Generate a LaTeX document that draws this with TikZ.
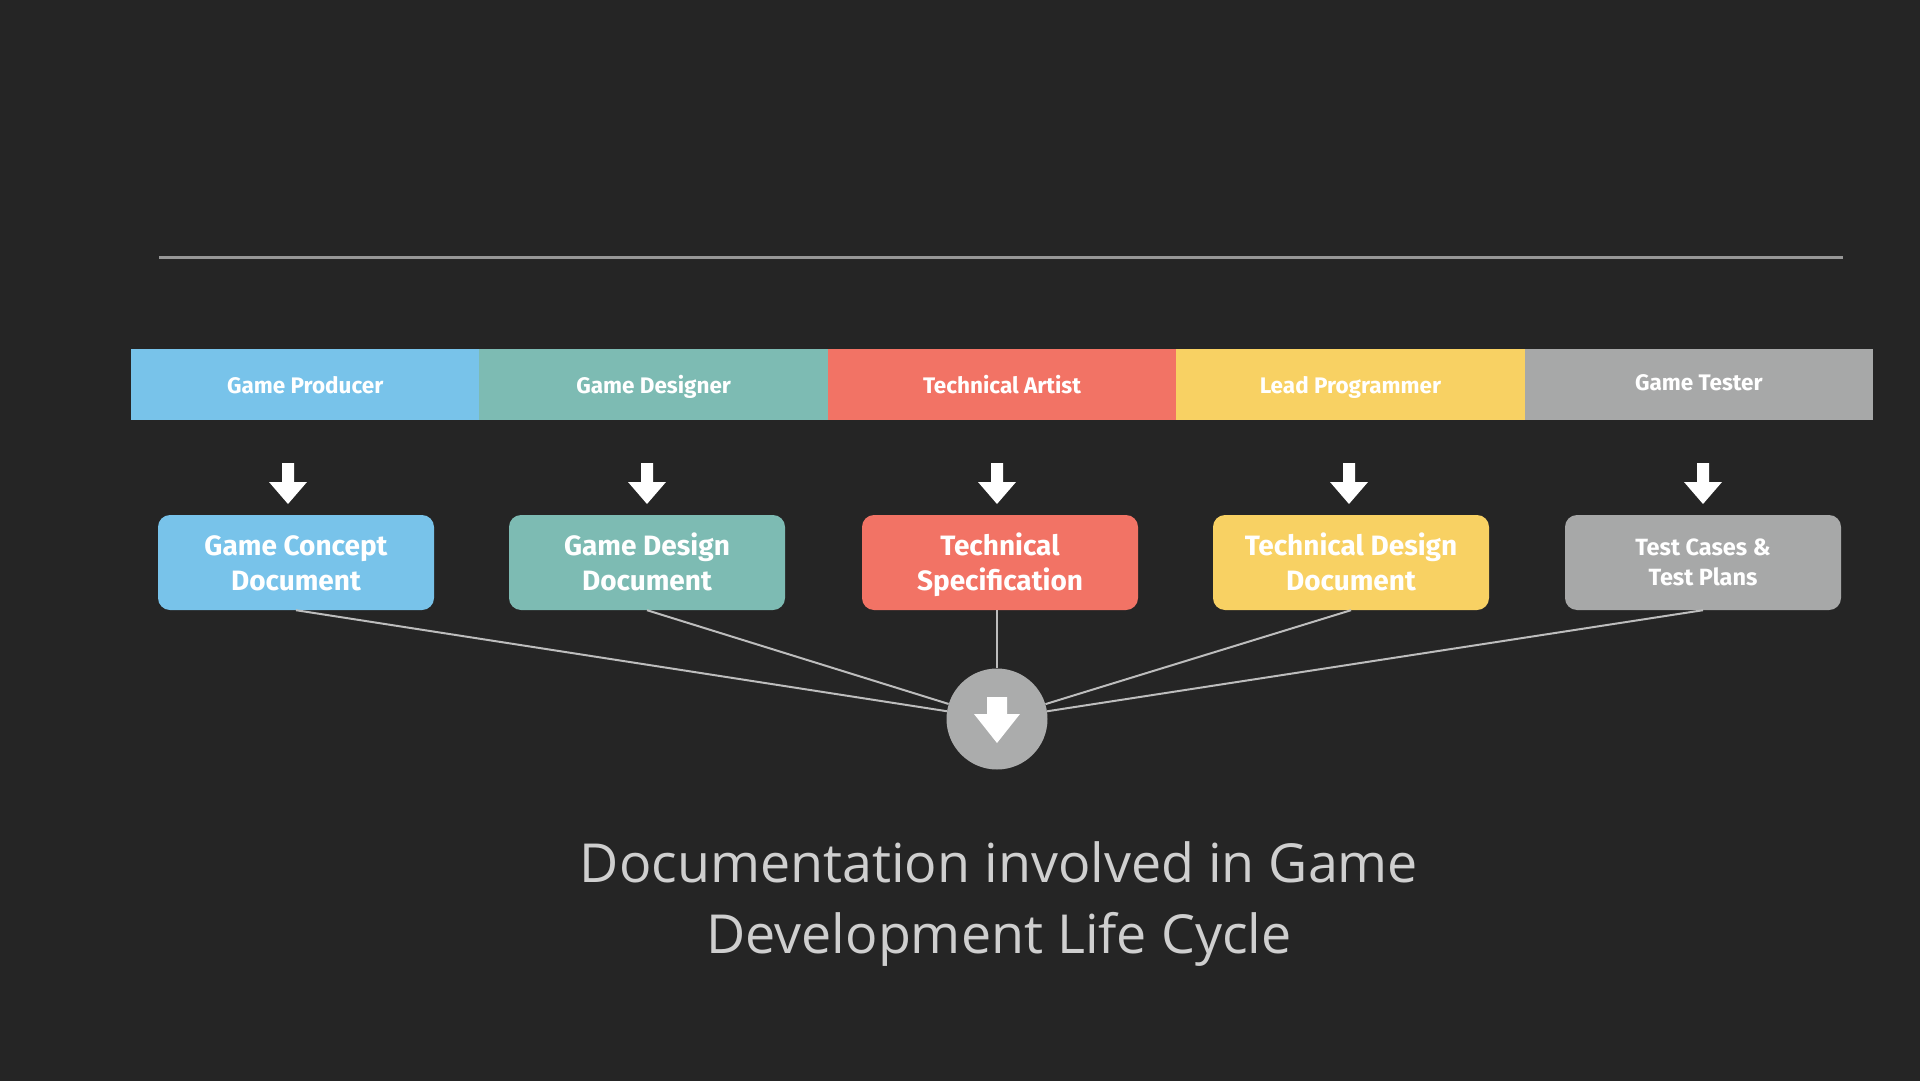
\documentclass[tikz,border=0pt]{standalone}
\usepackage{fontspec}
\setmainfont{Fira Sans}
\newfontfamily\titlefont{Open Sans}
\definecolor{bg}{HTML}{252525}
\definecolor{cblue}{HTML}{78C3EA}
\definecolor{cteal}{HTML}{7DBBB3}
\definecolor{cred}{HTML}{F27365}
\definecolor{cyellow}{HTML}{F8D163}
\definecolor{cgray}{HTML}{A7A8A8}
\definecolor{cline}{HTML}{BDBDBD}
\definecolor{ctitle}{HTML}{CFCFCF}
\tikzset{
  barseg/.style={fill=#1, draw=none, minimum width=348.4pt, minimum height=71pt, inner sep=0pt,
    text height=16pt, text depth=5pt,
    text=white, font=\fontsize{22.5}{26}\selectfont\bfseries},
  docbox/.style={fill=#1, draw=none, rounded corners=12pt, minimum width=276pt, minimum height=95pt,
    inner sep=0pt, align=center, text=white, text height=62.5pt, text depth=7.5pt,
    font=\fontsize{28}{35}\selectfont\bfseries},
  conn/.style={draw=cline, line width=2pt},
}
\begin{document}
\begin{tikzpicture}[x=1pt,y=-1pt]
\fill[bg] (0,0) rectangle (1920,1081);
\useasboundingbox (0,0) rectangle (1920,1081);
% top rule
\coordinate (r1) at (159,257);
\coordinate (r2) at (1843,257);
\draw[draw=cline!75!bg, line width=3pt] (r1) -- (r2);
% header bar
\node[barseg=cblue]   (h1) at (305.2,384.5) {\raisebox{-3pt}{Game Producer}};
\node[barseg=cteal]   (h2) at (653.6,384.5) {\raisebox{-3pt}{Game Designer}};
\node[barseg=cred]    (h3) at (1002.0,384.5) {\raisebox{-3pt}{Technical Artist}};
\node[barseg=cyellow] (h4) at (1350.4,384.5) {\raisebox{-3pt}{Lead Programmer}};
\node[barseg=cgray]   (h5) at (1698.8,384.5) {Game Tester};
% arrows
\foreach \x in {288,647,997,1349,1703}{
  \fill[white] (\x-6,463) -- (\x+6,463) -- (\x+6,482) -- (\x+19,482) -- (\x,504) -- (\x-19,482) -- (\x-6,482) -- cycle;
}
% documents
\node[docbox=cblue]   (b1) at (296,562.5) {Game Concept\\Document};
\node[docbox=cteal]   (b2) at (647,562.5) {Game Design\\Document};
\node[docbox=cred]    (b3) at (1000,562.5) {Technical\\Specification};
\node[docbox=cyellow] (b4) at (1351,562.5) {Technical Design\\Document};
\node[docbox=cgray, font=\fontsize{23.5}{30}\selectfont\bfseries, text height=53pt, text depth=7pt] (b5) at (1703,562.5) {Test Cases \&\\Test Plans};
% circle
\node[circle, fill=cgray!95!white, minimum size=101pt, inner sep=0pt] (c) at (997,719) {};
\foreach \b in {b1,b2,b4,b5}{ \draw[conn] (\b.south) -- (c); }
\draw[conn] (b3.south -| c.north) -- (c.north);
\fill[white] (987,697) -- (1007,697) -- (1007,714) -- (1020,714) -- (997,743) -- (974,714) -- (987,714) -- cycle;
% title
\node[text=ctitle, align=center, font=\titlefont\fontsize{53.8}{71}\selectfont] (t) at (999,904) {Documentation involved in Game\\Development Life Cycle};
\end{tikzpicture}
\end{document}
